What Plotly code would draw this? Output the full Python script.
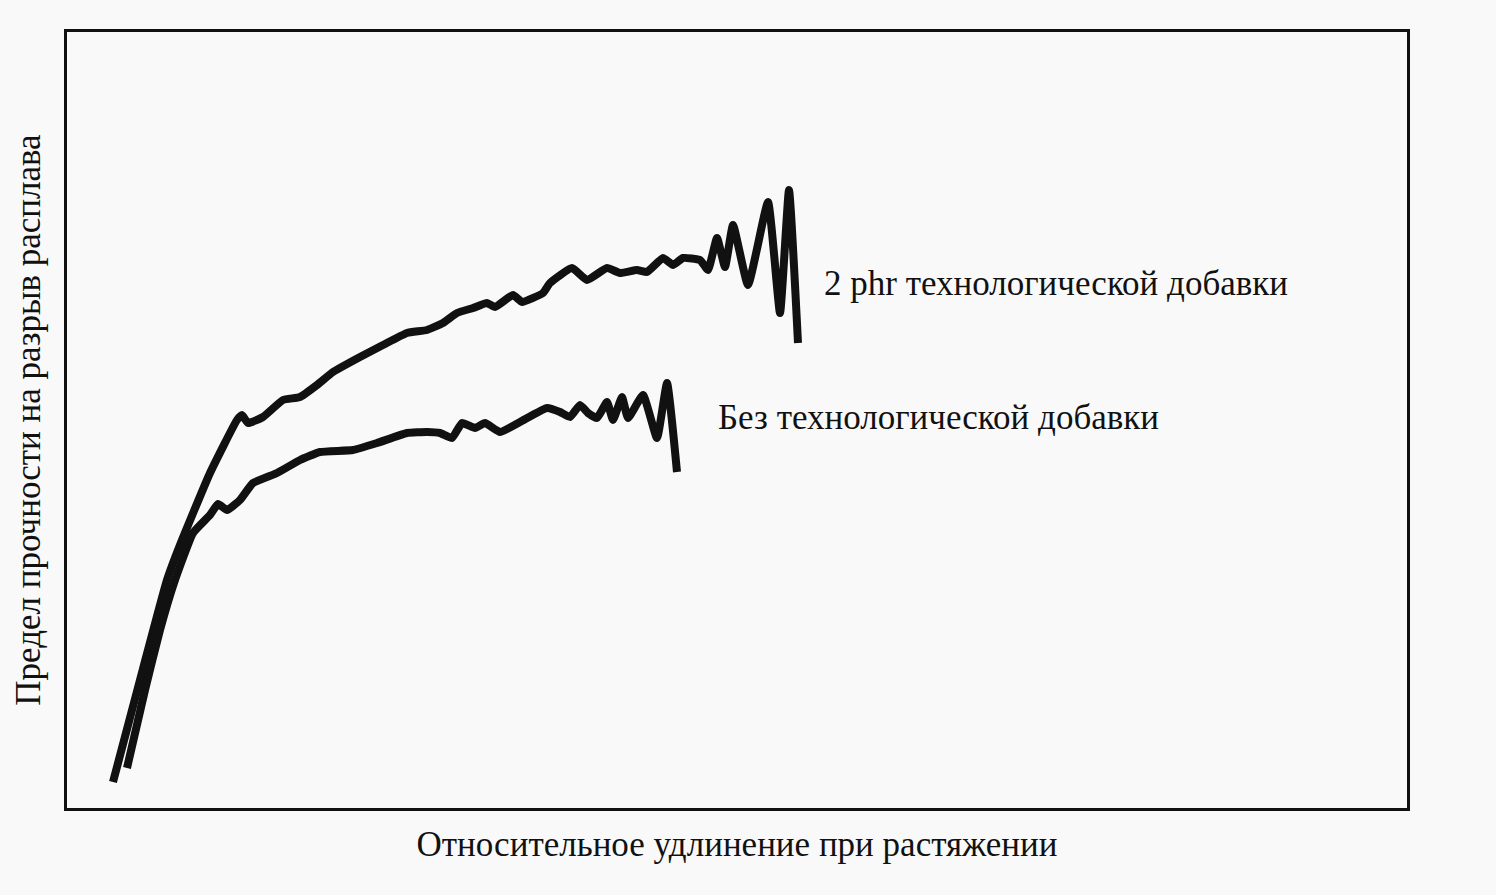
import plotly.graph_objects as go

# Elongation (arbitrary units) and melt strength (arbitrary units)
elong_2phr = [4.6, 7.3, 10.0, 11.3, 14.3, 17.0, 17.5, 18.1, 19.6, 21.6, 23.3, 25.0, 26.6,
              29.3, 31.6, 34.0, 36.0, 37.6, 39.0, 40.6, 42.0, 42.8, 44.6, 45.5, 47.6, 48.3,
              50.5, 52.0, 54.0, 55.3, 57.0, 58.0, 59.6, 60.6, 61.6, 63.3, 64.1, 65.0, 65.8,
              66.6, 68.1, 70.1, 71.3, 72.2, 73.1]
strength_2phr = [2.6, 12.8, 22.8, 26.3, 33.5, 38.8, 39.3, 38.5, 39.1, 40.8, 41.1, 42.3, 43.6,
                 45.1, 46.3, 47.5, 47.8, 48.5, 49.5, 50.0, 50.5, 50.1, 51.3, 50.6, 51.5, 52.5,
                 54.0, 52.8, 54.0, 53.5, 53.8, 53.6, 55.0, 54.3, 55.0, 54.8, 53.8, 57.0, 54.1,
                 58.3, 52.3, 60.6, 49.5, 61.8, 46.5]

elong_none = [6.0, 7.8, 9.3, 10.8, 12.6, 14.3, 15.1, 16.0, 17.3, 18.6, 21.0, 23.3, 25.3,
              28.6, 31.0, 34.0, 36.0, 37.3, 38.5, 39.5, 40.8, 41.8, 43.3, 45.3, 48.0, 49.3,
              50.3, 51.3, 52.1, 53.0, 54.0, 54.6, 55.5, 56.1, 57.6, 59.0, 60.0, 61.0]
strength_none = [4.0, 11.8, 17.8, 22.8, 27.5, 29.3, 30.4, 29.8, 30.8, 32.5, 33.5, 34.8, 35.6,
                 35.8, 36.5, 37.5, 37.6, 37.5, 37.0, 38.5, 38.0, 38.5, 37.6, 38.6, 40.0, 39.6,
                 39.1, 40.3, 39.5, 39.0, 40.6, 38.8, 41.1, 39.0, 41.3, 37.0, 42.5, 33.6]

label_2phr = "2 phr технологической добавки"
label_none = "Без технологической добавки"
x_title = "Относительное удлинение при растяжении"
y_title = "Предел прочности на разрыв расплава"

serif = "Liberation Serif, Times New Roman, serif"
ink = "#111111"
text_size = 35

fig = go.Figure()
for xs, ys in [(elong_2phr, strength_2phr), (elong_none, strength_none)]:
    fig.add_trace(go.Scatter(x=xs, y=ys, mode="lines",
                             line=dict(color=ink, width=8, shape="spline", smoothing=0.4),
                             hoverinfo="skip"))

fig.add_annotation(x=75.5, y=52.5, text=label_2phr, showarrow=False,
                   xanchor="left", yanchor="middle",
                   font=dict(family=serif, size=text_size, color=ink))
fig.add_annotation(x=64.9, y=39.1, text=label_none, showarrow=False,
                   xanchor="left", yanchor="middle",
                   font=dict(family=serif, size=text_size, color=ink))

axis_common = dict(showgrid=False, zeroline=False, showticklabels=False, ticks="",
                   showline=True, mirror=True, linecolor=ink, linewidth=2.5)

fig.update_layout(
    width=1496, height=895,
    margin=dict(l=67, r=89, t=32, b=87),
    paper_bgcolor="#f9f9f9", plot_bgcolor="#f9f9f9",
    showlegend=False,
    xaxis=dict(range=[0, 134], title=dict(text=x_title, standoff=22,
               font=dict(family=serif, size=text_size, color=ink)), **axis_common),
    yaxis=dict(range=[0, 77.6], title=dict(text=y_title, standoff=14,
               font=dict(family=serif, size=text_size, color=ink)), **axis_common),
)

fig.write_html("out.html")
